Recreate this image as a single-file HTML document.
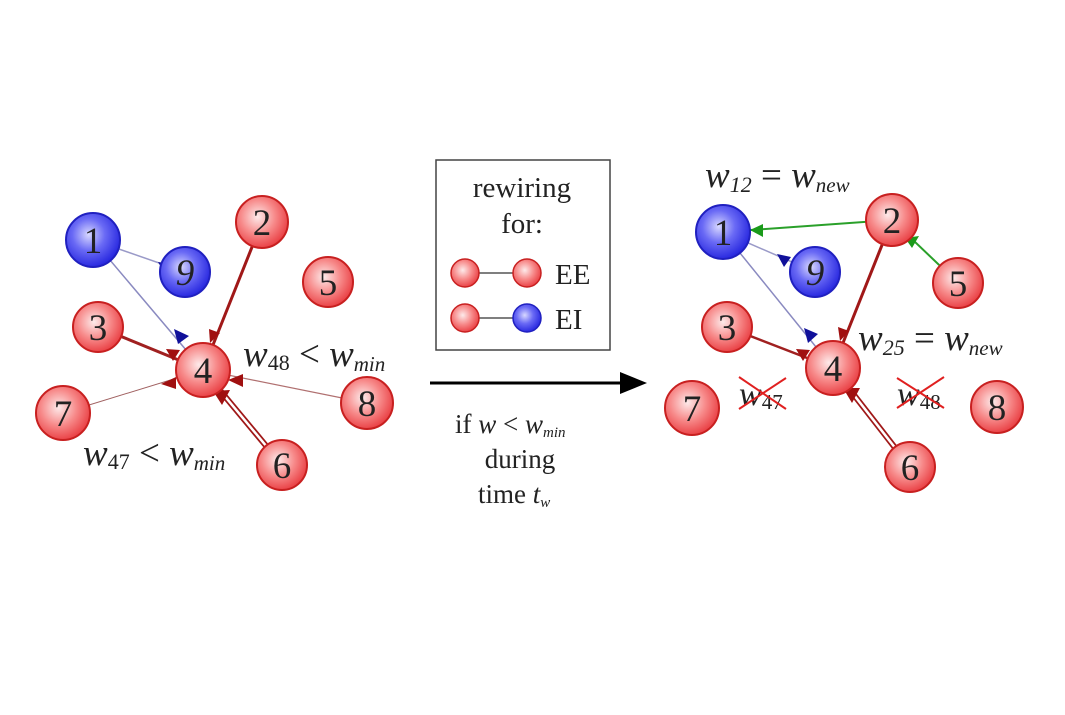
<!DOCTYPE html>
<html><head><meta charset="utf-8"><style>
html,body{margin:0;padding:0;background:#fff;}
svg text{font-family:"Liberation Serif",serif;fill:#222;}
</style></head><body>
<svg width="1065" height="710" viewBox="0 0 1065 710" xmlns="http://www.w3.org/2000/svg">
<defs>
<radialGradient id="r" cx="0.42" cy="0.4" r="0.6"><stop offset="0" stop-color="#fdeaea"/><stop offset="0.55" stop-color="#f78a8a"/><stop offset="1" stop-color="#ea4448"/></radialGradient>
<radialGradient id="b" cx="0.42" cy="0.4" r="0.6"><stop offset="0" stop-color="#d8d8ff"/><stop offset="0.5" stop-color="#6a6af5"/><stop offset="1" stop-color="#2a2ae0"/></radialGradient>
</defs>

<!-- LEFT edges -->
<line x1="93" y1="240" x2="185" y2="272" stroke="#9a9ac8" stroke-width="1.5"/>
<polygon points="158,262 172,264 165,274" fill="#10109a"/>
<line x1="93" y1="240" x2="203" y2="370" stroke="#8a8ac0" stroke-width="1.5"/>
<polygon points="174,329 189,336 178,344" fill="#10109a"/>
<line x1="262" y1="222" x2="203" y2="370" stroke="#a01818" stroke-width="3"/>
<polygon points="209,329 220,333 210,343" fill="#a01010"/>
<line x1="98" y1="327" x2="203" y2="370" stroke="#a02020" stroke-width="3"/>
<polygon points="166,349 180,350 173,361" fill="#a01010"/>
<line x1="63" y1="413" x2="203" y2="370" stroke="#a06060" stroke-width="1"/>
<polygon points="161,384 176,377 176,389" fill="#a01010"/>
<line x1="367" y1="403" x2="203" y2="370" stroke="#b07070" stroke-width="1.2"/>
<polygon points="228,380 243,374 243,387" fill="#a01010"/>
<line x1="282" y1="465" x2="203" y2="370" stroke="#a01818" stroke-width="6"/>
<line x1="282" y1="465" x2="203" y2="370" stroke="#fff" stroke-width="2.5"/>
<polygon points="213,391 230,390 222,405" fill="#a01010"/>

<!-- RIGHT edges -->
<line x1="723" y1="232" x2="815" y2="272" stroke="#9a9ac8" stroke-width="1.5"/>
<polygon points="777,254 791,257 784,267" fill="#10109a"/>
<line x1="723" y1="232" x2="833" y2="368" stroke="#8a8ac0" stroke-width="1.5"/>
<polygon points="804,328 818,334 808,343" fill="#10109a"/>
<line x1="892" y1="220" x2="723" y2="232" stroke="#2aa02a" stroke-width="2"/>
<polygon points="750,230 763,224 763,237" fill="#1a9a1a"/>
<line x1="958" y1="283" x2="892" y2="220" stroke="#2aa02a" stroke-width="2"/>
<polygon points="905,238 919,236 912,248" fill="#1a9a1a"/>
<line x1="892" y1="220" x2="833" y2="368" stroke="#a01818" stroke-width="3"/>
<polygon points="838,327 849,331 840,341" fill="#a01010"/>
<line x1="727" y1="327" x2="833" y2="368" stroke="#a02020" stroke-width="2.5"/>
<polygon points="796,349 810,350 803,361" fill="#a01010"/>
<line x1="910" y1="467" x2="833" y2="368" stroke="#a01818" stroke-width="6"/>
<line x1="910" y1="467" x2="833" y2="368" stroke="#fff" stroke-width="2.5"/>
<polygon points="843,388 860,388 852,403" fill="#a01010"/>

<!-- nodes -->
<g stroke-width="2" font-size="37" text-anchor="middle">
<g stroke="#2020c0"><circle cx="93" cy="240" r="27" fill="url(#b)"/><circle cx="185" cy="272" r="25" fill="url(#b)"/>
<circle cx="723" cy="232" r="27" fill="url(#b)"/><circle cx="815" cy="272" r="25" fill="url(#b)"/></g>
<g stroke="#c82020">
<circle cx="262" cy="222" r="26" fill="url(#r)"/><circle cx="328" cy="282" r="25" fill="url(#r)"/>
<circle cx="98" cy="327" r="25" fill="url(#r)"/><circle cx="203" cy="370" r="27" fill="url(#r)"/>
<circle cx="63" cy="413" r="27" fill="url(#r)"/><circle cx="367" cy="403" r="26" fill="url(#r)"/>
<circle cx="282" cy="465" r="25" fill="url(#r)"/>
<circle cx="892" cy="220" r="26" fill="url(#r)"/><circle cx="958" cy="283" r="25" fill="url(#r)"/>
<circle cx="727" cy="327" r="25" fill="url(#r)"/><circle cx="833" cy="368" r="27" fill="url(#r)"/>
<circle cx="692" cy="408" r="27" fill="url(#r)"/><circle cx="997" cy="407" r="26" fill="url(#r)"/>
<circle cx="910" cy="467" r="25" fill="url(#r)"/></g>
<g>
<text x="93" y="253">1</text><text x="185" y="285" font-style="italic">9</text>
<text x="262" y="235">2</text><text x="328" y="295">5</text><text x="98" y="340">3</text>
<text x="203" y="383">4</text><text x="63" y="426">7</text><text x="367" y="416">8</text><text x="282" y="478">6</text>
<text x="723" y="245">1</text><text x="815" y="285" font-style="italic">9</text>
<text x="892" y="233">2</text><text x="958" y="296">5</text><text x="727" y="340">3</text>
<text x="833" y="381">4</text><text x="692" y="421">7</text><text x="997" y="420">8</text><text x="910" y="480">6</text>
</g></g>

<!-- labels -->
<text x="243" y="366" font-size="37"><tspan font-style="italic">w</tspan><tspan font-size="22" dy="4">48</tspan><tspan dy="-4"> &lt; </tspan><tspan font-style="italic">w</tspan><tspan font-size="21" dy="5" font-style="italic">min</tspan></text>
<text x="83" y="465" font-size="37"><tspan font-style="italic">w</tspan><tspan font-size="22" dy="4">47</tspan><tspan dy="-4"> &lt; </tspan><tspan font-style="italic">w</tspan><tspan font-size="21" dy="5" font-style="italic">min</tspan></text>
<text x="705" y="187" font-size="37"><tspan font-style="italic">w</tspan><tspan font-size="22" dy="5" font-style="italic">12</tspan><tspan dy="-5"> = </tspan><tspan font-style="italic">w</tspan><tspan font-size="21" dy="5" font-style="italic">new</tspan></text>
<text x="858" y="350" font-size="37"><tspan font-style="italic">w</tspan><tspan font-size="22" dy="5" font-style="italic">25</tspan><tspan dy="-5"> = </tspan><tspan font-style="italic">w</tspan><tspan font-size="21" dy="5" font-style="italic">new</tspan></text>
<text x="739" y="405" font-size="34" font-style="italic">w<tspan font-size="21" dy="4" font-style="normal">47</tspan></text>
<path d="M739,377L786,409M739,409L786,378" stroke="#e02020" stroke-width="2"/>
<text x="897" y="405" font-size="34" font-style="italic">w<tspan font-size="21" dy="4" font-style="normal">48</tspan></text>
<path d="M897,378L944,408M897,408L944,377" stroke="#e02020" stroke-width="2"/>

<!-- center box -->
<rect x="436" y="160" width="174" height="190" fill="none" stroke="#444" stroke-width="1.5"/>
<text x="522" y="197" font-size="29" text-anchor="middle">rewiring</text>
<text x="522" y="233" font-size="29" text-anchor="middle">for:</text>
<line x1="465" y1="273" x2="522" y2="273" stroke="#333" stroke-width="1.2"/>
<polygon points="512,273 520,269 520,277" fill="#111"/>
<line x1="465" y1="318" x2="522" y2="318" stroke="#333" stroke-width="1.2"/>
<polygon points="512,318 520,314 520,322" fill="#111"/>
<circle cx="465" cy="273" r="14" fill="url(#r)" stroke="#c82020" stroke-width="1.5"/>
<circle cx="527" cy="273" r="14" fill="url(#r)" stroke="#c82020" stroke-width="1.5"/>
<circle cx="465" cy="318" r="14" fill="url(#r)" stroke="#c82020" stroke-width="1.5"/>
<circle cx="527" cy="318" r="14" fill="url(#b)" stroke="#2020c0" stroke-width="1.5"/>
<text x="555" y="284" font-size="29">EE</text>
<text x="555" y="329" font-size="29">EI</text>

<line x1="430" y1="383" x2="625" y2="383" stroke="#000" stroke-width="3"/>
<polygon points="620,372 647,383 620,394" fill="#000"/>
<text x="455" y="433" font-size="27">if <tspan font-style="italic">w</tspan> &lt; <tspan font-style="italic">w</tspan><tspan font-size="15" dy="4" font-style="italic">min</tspan></text>
<text x="520" y="468" font-size="27" text-anchor="middle">during</text>
<text x="478" y="503" font-size="27">time <tspan font-style="italic">t</tspan><tspan font-size="15" dy="4" font-style="italic">w</tspan></text>
</svg>
</body></html>
